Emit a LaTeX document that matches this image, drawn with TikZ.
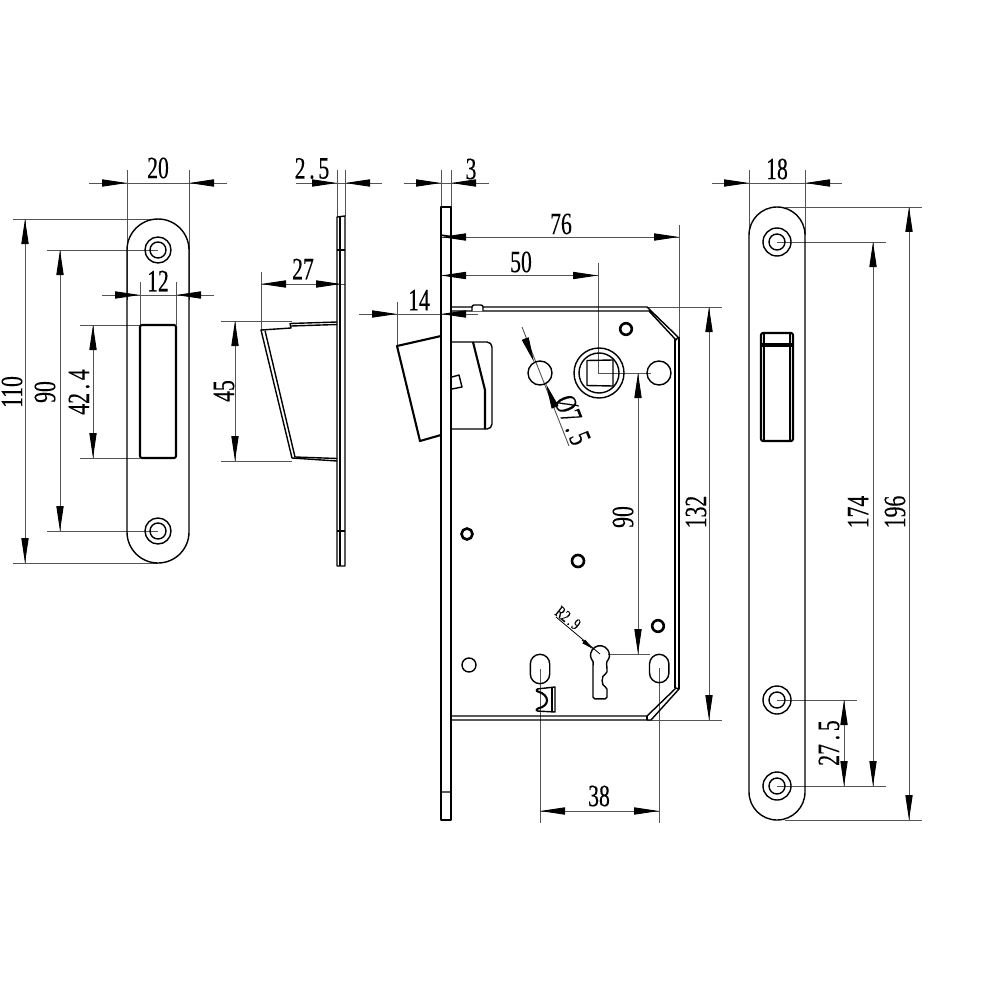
\documentclass[tikz,border=0pt]{standalone}
\usepackage{fontspec}
\usetikzlibrary{arrows.meta}
\newfontfamily\dimfont[FakeStretch=0.7,FakeBold=0.25]{Liberation Serif}
\newcommand{\dotc}{\kern.12em.\kern.12em}
\definecolor{dimgray}{gray}{0.33}
\tikzset{
  part/.style={draw=black,line width=.7pt,line join=round},
  heavy/.style={draw=black,line width=1.05pt,line join=round},
  ring/.style={draw=black,line width=1.3pt},
  dimline/.style={draw=dimgray,line width=.45pt},
  tipped/.style={draw=dimgray,line width=.45pt,-{Triangle[length=12.5pt,width=3.6pt,color=black]}},
  smalltip/.style={draw=black,line width=.45pt,-{Triangle[length=6pt,width=2.2pt,color=black]}},
  dimtext/.style={inner sep=0pt,font=\dimfont\fontsize{15.5}{16}\selectfont},
  dimtextv/.style={dimtext,rotate=90},
  smalltext/.style={inner sep=0pt,font=\dimfont\fontsize{8.5}{9}\selectfont},
}
\newcommand{\ar}[2]{\draw[tipped] (#1) -- (#2);}
\begin{document}
\begin{tikzpicture}[x=.5pt,y=-.5pt]
\useasboundingbox (0,0) rectangle (1000,1000);
\fill[white] (0,0) rectangle (1000,1000);

% ---------- dimension lines, view 1
\draw[dimline] (127,170) -- (127,300) (189,170) -- (189,300);
\draw[dimline] (89,183) -- (227,183);
\ar{101,183}{127,183} \ar{214,183}{189,183}
\draw[dimline] (13,219) -- (158,219) (13,563) -- (158,563);
\draw[dimline] (25,219) -- (25,563);
\ar{25,245}{25,219} \ar{25,537}{25,563}
\draw[dimline] (47,250) -- (158,250) (47,531) -- (158,531);
\draw[dimline] (60,250) -- (60,531);
\ar{60,276}{60,250} \ar{60,505}{60,531}
\draw[dimline] (80,325) -- (140,325) (80,458) -- (140,458);
\draw[dimline] (93,325) -- (93,458);
\ar{93,351}{93,325} \ar{93,432}{93,458}
\draw[dimline] (140,282) -- (140,325) (176,282) -- (176,325);
\draw[dimline] (102,295) -- (214,295);
\ar{114,295}{140,295} \ar{201,295}{176,295}

% ---------- view 1: strike plate
\draw[part] (127,250) arc[start angle=180,end angle=360,radius=31] -- (189,532) arc[start angle=0,end angle=180,radius=31] -- cycle;
\foreach \y in {250,531}{
  \draw[part] (158,\y) circle[radius=13] (158,\y) circle[radius=8];
}
\draw[heavy,rounded corners=1pt] (140,325) rectangle (176,458);

\node[dimtext] (t20) at (158,168) {20};
\node[dimtext] (t12) at (158,281) {12};
\node[dimtextv] (t110) at (12,392) {110};
\node[dimtextv] (t90a) at (45,392) {90};
\node[dimtextv] (t424) at (79,392) {42\dotc4};

% ---------- view 2: dimensions
\draw[dimline] (337,170) -- (337,216) (345,170) -- (345,216);
\draw[dimline] (296,183) -- (382,183);
\ar{312,183}{337,183} \ar{370,183}{345,183}
\draw[dimline] (261,272) -- (261,330);
\draw[dimline] (261,284) -- (345,284);
\ar{286,284}{261,284} \ar{316,284}{341,284}
\draw[dimline] (221,321) -- (292,321) (221,461) -- (292,461);
\draw[dimline] (235,321) -- (235,461);
\ar{235,347}{235,321} \ar{235,435}{235,461}

% ---------- view 2: side of strike
\draw[part] (337,217) -- (345,216) -- (345,566) -- (337,566) -- cycle;
\draw[part] (340,217) -- (340,566) (337,250) -- (345,250) (337,531) -- (345,531);
\draw[part] (337,322) -- (290,323.5) -- (291,328) -- (261,330) -- (292,458) -- (337,461);
\draw[part] (337,324.5) -- (291,326) (265,330.5) -- (295,457) -- (337,458.5);

\node[dimtext] (t25) at (312,168.5) {2\dotc5};
\node[dimtext] (t27) at (303,269) {27};
\node[dimtextv] (t45) at (224,391) {45};

% ---------- view 3: dimensions
\draw[dimline] (441,170) -- (441,207) (451,170) -- (451,207);
\draw[dimline] (404,183) -- (489,183);
\ar{417,183}{441,183} \ar{476,183}{451,183}
\draw[dimline] (441,237) -- (679,237) (679,225) -- (679,339);
\ar{467,237}{441,237} \ar{654,237}{679,237}
\draw[dimline] (441,275.5) -- (598,275.5) (598,263) -- (598,373) -- (651,373);
\ar{467,275.5}{441,275.5} \ar{573,275.5}{598,275.5}
\draw[dimline] (359,314) -- (478,314) (397,302) -- (397,346);
\ar{372,314}{397,314} \ar{467,314}{441,314}
\draw[dimline] (638,373) -- (638,654) (608,654) -- (650,654);
\ar{638,399}{638,373} \ar{638,628}{638,654}
\draw[dimline] (647,307) -- (722,307) (647,720) -- (722,720);
\draw[dimline] (709,307) -- (709,720);
\ar{709,333}{709,307} \ar{709,694}{709,720}
\draw[dimline] (540,669) -- (540,823) (659,668) -- (659,823);
\draw[dimline] (540,811) -- (659,811);
\ar{565,811}{540,811} \ar{634,811}{659,811}
\draw[dimline] (522,327) -- (569,446);
\ar{525,338}{534,362} \ar{555,407}{546,384}
\draw[draw=black,line width=.4pt] (556,617) -- (600,654);
\draw[smalltip] (582,640) -- (593,649);

% ---------- view 3: lock case
\draw[part] (441,207) rectangle (451,820);
\draw[part] (441,235) -- (451,236.5) (441,792) -- (451,792);
\draw[part] (451,307) -- (647,307) -- (678,337) -- (676,340) -- (649,311) -- (451,311);
\draw[part] (675,339) -- (675,688) (679,337) -- (679,689);
\draw[part] (451,716) -- (647,716) -- (676,688) -- (679,689) -- (651,720) -- (451,720);
\draw[part] (647,716) -- (647,720);
\draw[part,fill=white,rounded corners=1pt] (472,311) -- (472,305) -- (483,305) -- (483,311);
% latch
\draw[heavy] (441,336) -- (397,346) -- (420,441) -- (441,435);
\draw[part] (451,342) -- (487,342) arc[start angle=-90,end angle=0,radius=5] -- (492,424) arc[start angle=0,end angle=90,radius=5] -- (451,429);
\draw[heavy] (473,342) -- (485,390) -- (485,429);
\draw[part] (452,377) -- (459,375) -- (462,387) -- (452,389);
% spindle and holes
\draw[part] (599,373) circle[radius=25] (599,373) circle[radius=20];
\draw[part] (587,360.5) -- (613,360) -- (613,386) -- (587,385.5) -- cycle;
\draw[part] (540,373) circle[radius=12] (659,373) circle[radius=12];
\draw[ring] (626,329) circle[radius=5.8];
\draw[ring] (658,626) circle[radius=5.8];
\draw[ring] (467,534) circle[radius=5.5];
\draw[ring] (578,561) circle[radius=6];
\draw[part] (469,665) circle[radius=7];
% slots
\draw[part] (530.3,664) arc[start angle=180,end angle=360,radius=9.7] -- (549.7,674) arc[start angle=0,end angle=180,radius=9.7] -- cycle;
\draw[part] (649.5,664) arc[start angle=180,end angle=360,radius=9.7] -- (668.9,673) arc[start angle=0,end angle=180,radius=9.7] -- cycle;
% key hole
\draw[part,rounded corners=.8pt] (593,698.8) -- (593,667) .. controls (593,664) and (593.5,662.5) .. (592.4,660.3)
  arc[start angle=145,end angle=395,radius=9.3]
  .. controls (606.5,662.5) and (606.5,664) .. (607,668) -- (607,673.5)
  .. controls (601,675) and (601,686) .. (607,687.5) -- (607,698.8) -- cycle;
% clip
\draw[part] (537,689) -- (555,687) -- (555,712) -- (537,711);
\draw[heavy] (537,689) .. controls (536,691) and (537,691.5) .. (538,691.5) .. controls (550,695) and (550,706) .. (538,708.5) .. controls (536.5,709) and (536,710) .. (537,711);
\draw[part] (552,688) -- (552,711.5);

\node[dimtext] (t3) at (471,169) {3};
\node[dimtext] (t76) at (561,224) {76};
\node[dimtext] (t50) at (521,262) {50};
\node[dimtext] (t14) at (419,300) {14};
\node[dimtext] (t38) at (599,796) {38};
\node[dimtextv] (t90b) at (623,517) {90};
\node[dimtextv] (t132) at (696,512) {132};
\node[dimtext,rotate=-68] (t75) at (572.5,420) {Ø7\dotc5};
\node[smalltext,rotate=-38] (t29) at (568,618) {R2\dotc9};

% ---------- view 4: dimensions
\draw[dimline] (749,170) -- (749,235) (805,170) -- (805,235);
\draw[dimline] (712,183) -- (842,183);
\ar{725,183}{749,183} \ar{830,183}{805,183}
\draw[dimline] (785,207) -- (922,207) (785,820) -- (922,820);
\draw[dimline] (909,207) -- (909,820);
\ar{909,233}{909,207} \ar{909,794}{909,820}
\draw[dimline] (777,242) -- (886,242) (777,786) -- (886,786);
\draw[dimline] (873,242) -- (873,786);
\ar{873,268}{873,242} \ar{873,760}{873,786}
\draw[dimline] (777,700) -- (857,700);
\draw[dimline] (844,700) -- (844,786);
\ar{844,725}{844,700} \ar{844,761}{844,786}

% ---------- view 4: face plate
\draw[part] (749,235) arc[start angle=180,end angle=360,radius=28] -- (805,792) arc[start angle=0,end angle=180,radius=28] -- cycle;
\foreach \y in {242,700,786}{
  \draw[part] (777,\y) circle[radius=14] (777,\y) circle[radius=8];
}
\draw[heavy,rounded corners=1pt] (761,333) rectangle (793,441);
\draw[part] (764,333) -- (764,441) (790,333) -- (790,441) (761,346) -- (793,346);
\draw[part] (761,344) -- (793,344);

\node[dimtext] (t18) at (777,169) {18};
\node[dimtextv] (t174) at (858,512) {174};
\node[dimtextv] (t196) at (895,512) {196};
\node[dimtextv] (t275) at (829,743) {27\dotc5};
\end{tikzpicture}
\end{document}
